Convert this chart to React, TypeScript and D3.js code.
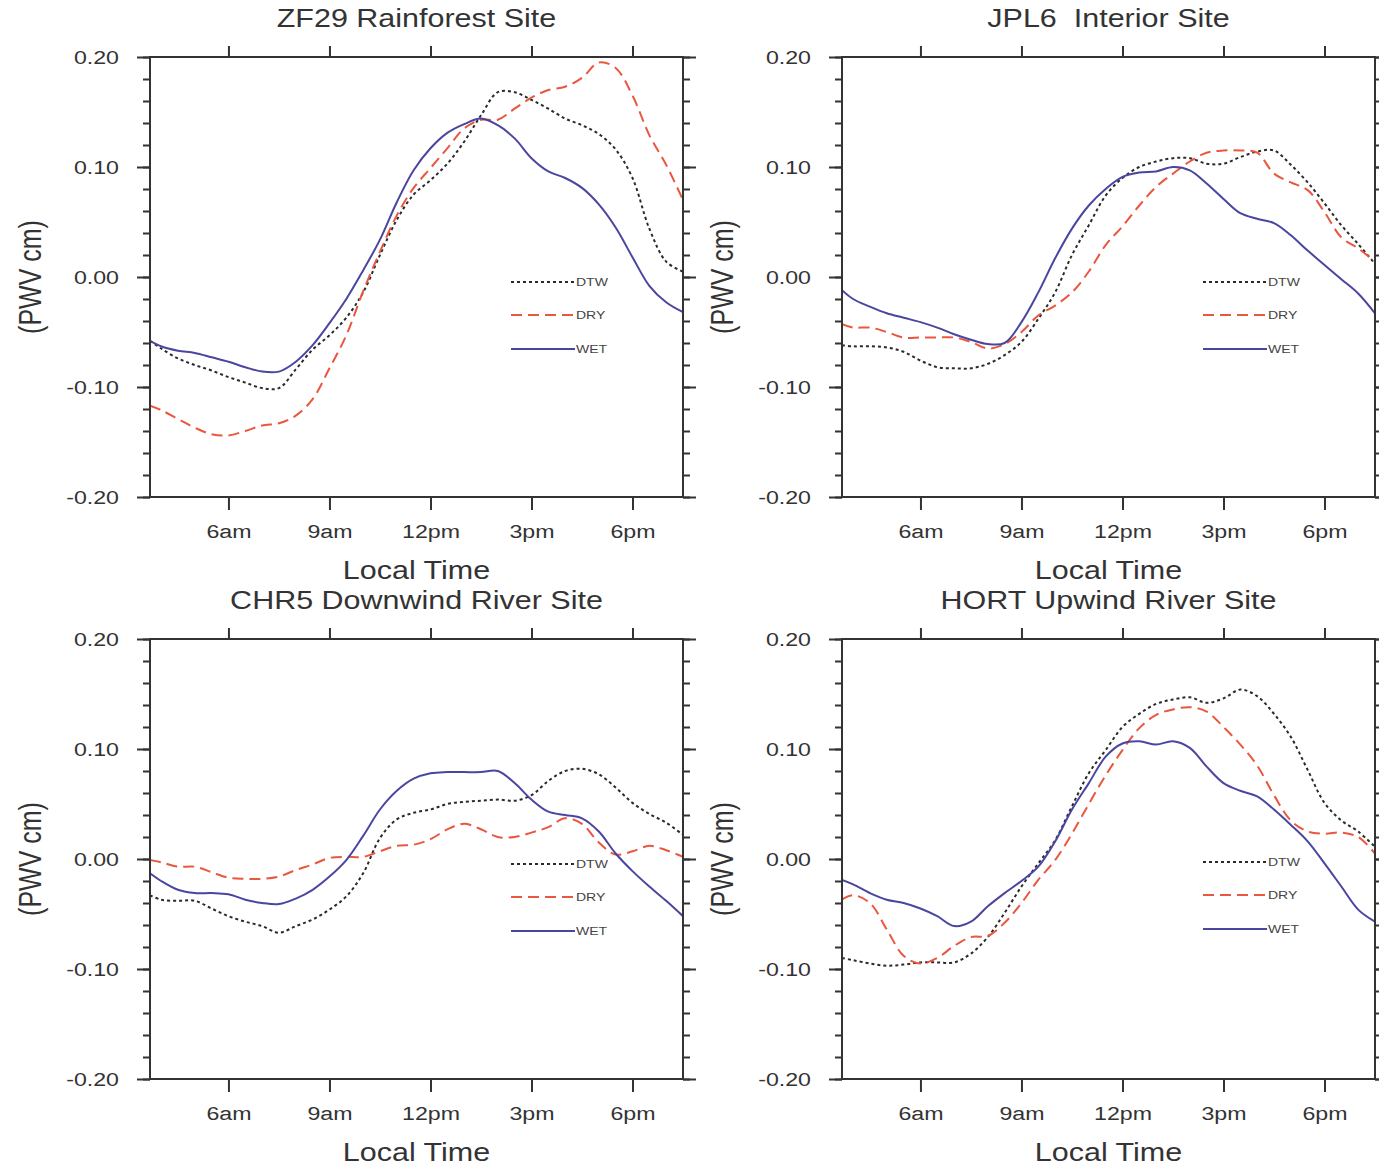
import React, { useEffect, useRef } from 'react';
import * as d3 from 'd3';

// local time in hours, one sample every half hour
const hours = [3.67, 4, 4.5, 5, 5.5, 6, 6.5, 7, 7.5, 8, 8.5, 9, 9.5, 10, 10.5, 11, 11.5, 12, 12.5, 13, 13.5, 14, 14.5, 15, 15.5, 16, 16.5, 17, 17.5, 18, 18.5, 19, 19.5];

const zf29Dtw = [-0.058, -0.065, -0.074, -0.080, -0.085, -0.091, -0.096, -0.101, -0.101, -0.084, -0.066, -0.053, -0.037, -0.014, 0.020, 0.052, 0.075, 0.088, 0.103, 0.123, 0.147, 0.168, 0.168, 0.161, 0.153, 0.144, 0.138, 0.130, 0.116, 0.090, 0.044, 0.014, 0.005];
const zf29Dry = [-0.117, -0.121, -0.129, -0.137, -0.143, -0.144, -0.140, -0.135, -0.133, -0.126, -0.111, -0.083, -0.053, -0.013, 0.023, 0.056, 0.081, 0.099, 0.117, 0.135, 0.143, 0.143, 0.153, 0.163, 0.170, 0.173, 0.181, 0.195, 0.190, 0.165, 0.129, 0.102, 0.070];
const zf29Wet = [-0.058, -0.063, -0.067, -0.069, -0.073, -0.077, -0.082, -0.086, -0.086, -0.077, -0.062, -0.042, -0.020, 0.006, 0.034, 0.068, 0.097, 0.117, 0.131, 0.139, 0.144, 0.138, 0.126, 0.108, 0.096, 0.090, 0.081, 0.066, 0.045, 0.018, -0.008, -0.023, -0.032];

const jpl6Dtw = [-0.062, -0.063, -0.063, -0.064, -0.068, -0.076, -0.082, -0.083, -0.083, -0.079, -0.071, -0.059, -0.038, -0.014, 0.020, 0.047, 0.074, 0.090, 0.100, 0.105, 0.108, 0.108, 0.103, 0.103, 0.109, 0.114, 0.115, 0.102, 0.086, 0.067, 0.047, 0.030, 0.012];
const jpl6Dry = [-0.043, -0.046, -0.046, -0.050, -0.055, -0.055, -0.055, -0.055, -0.059, -0.065, -0.061, -0.050, -0.035, -0.026, -0.014, 0.005, 0.029, 0.046, 0.065, 0.082, 0.094, 0.105, 0.113, 0.115, 0.115, 0.113, 0.094, 0.086, 0.079, 0.059, 0.036, 0.026, 0.014];
const jpl6Wet = [-0.012, -0.020, -0.027, -0.033, -0.037, -0.041, -0.046, -0.052, -0.057, -0.061, -0.060, -0.041, -0.014, 0.017, 0.044, 0.065, 0.080, 0.091, 0.095, 0.096, 0.100, 0.097, 0.085, 0.071, 0.058, 0.053, 0.049, 0.038, 0.024, 0.011, -0.002, -0.015, -0.033];

const chr5Dtw = [-0.033, -0.037, -0.038, -0.038, -0.045, -0.052, -0.057, -0.061, -0.067, -0.061, -0.055, -0.046, -0.034, -0.013, 0.019, 0.036, 0.042, 0.045, 0.050, 0.052, 0.053, 0.054, 0.053, 0.058, 0.071, 0.080, 0.082, 0.077, 0.065, 0.051, 0.041, 0.033, 0.022];
const chr5Dry = [-0.001, -0.003, -0.007, -0.007, -0.012, -0.017, -0.018, -0.018, -0.016, -0.010, -0.005, 0.001, 0.002, 0.002, 0.007, 0.012, 0.013, 0.018, 0.027, 0.032, 0.027, 0.020, 0.020, 0.024, 0.029, 0.037, 0.032, 0.015, 0.004, 0.007, 0.012, 0.008, 0.002];
const chr5Wet = [-0.013, -0.020, -0.028, -0.031, -0.031, -0.032, -0.037, -0.040, -0.041, -0.036, -0.028, -0.016, -0.001, 0.021, 0.045, 0.062, 0.073, 0.078, 0.079, 0.079, 0.079, 0.080, 0.069, 0.054, 0.043, 0.040, 0.037, 0.025, 0.005, -0.011, -0.025, -0.038, -0.052];

const hortDtw = [-0.090, -0.092, -0.095, -0.097, -0.096, -0.094, -0.094, -0.094, -0.086, -0.071, -0.049, -0.025, -0.004, 0.017, 0.048, 0.078, 0.099, 0.120, 0.132, 0.141, 0.145, 0.147, 0.142, 0.146, 0.154, 0.148, 0.132, 0.111, 0.081, 0.051, 0.035, 0.025, 0.011];
const hortDry = [-0.037, -0.033, -0.040, -0.064, -0.088, -0.095, -0.090, -0.079, -0.071, -0.070, -0.058, -0.040, -0.019, -0.001, 0.023, 0.050, 0.076, 0.099, 0.119, 0.131, 0.136, 0.138, 0.134, 0.120, 0.104, 0.085, 0.058, 0.035, 0.025, 0.023, 0.024, 0.020, 0.005];
const hortWet = [-0.019, -0.023, -0.031, -0.037, -0.040, -0.045, -0.052, -0.061, -0.057, -0.043, -0.031, -0.020, -0.007, 0.016, 0.045, 0.069, 0.093, 0.105, 0.107, 0.104, 0.107, 0.101, 0.084, 0.069, 0.062, 0.057, 0.045, 0.031, 0.016, -0.004, -0.025, -0.046, -0.057];

const siteTitles = ['ZF29 Rainforest Site', 'JPL6  Interior Site', 'CHR5 Downwind River Site', 'HORT Upwind River Site'];
const seriesNames = ['DTW', 'DRY', 'WET'];
const siteSeries = [
  [zf29Dtw, zf29Dry, zf29Wet],
  [jpl6Dtw, jpl6Dry, jpl6Wet],
  [chr5Dtw, chr5Dry, chr5Wet],
  [hortDtw, hortDry, hortWet],
];

const xTickHours = [6, 9, 12, 15, 18];
const xTickLabels = ['6am', '9am', '12pm', '3pm', '6pm'];
const yMajorTicks = [-0.2, -0.1, 0, 0.1, 0.2];

const width = 1379;
const height = 1165;
const panelW = 533;
const panelH = 440;
const panelOrigins = [[150, 57], [842, 57], [150, 639], [842, 639]];
const lineStyles = [
  { color: '#2a2a2a', dash: '3,3', w: 2 },
  { color: '#e9573f', dash: '11,6', w: 2 },
  { color: '#4a46a0', dash: null, w: 2 },
];
const legendRows = [225, 258, 292];
const font = "'Liberation Sans', Arial, Helvetica, sans-serif";
const ink = '#333';
// the original figure is a bit wider than tall, so glyphs look stretched sideways
const stretch = 1.22;

function App() {
  const ref = useRef<SVGSVGElement>(null);

  useEffect(() => {
    const svg = d3.select(ref.current);
    svg.selectAll('*').remove();

    const x = d3.scaleLinear().domain([3.67, 19.5]).range([0, panelW]);
    const y = d3.scaleLinear().domain([-0.2, 0.2]).range([panelH, 0]);
    const line = d3
      .line<number>()
      .x((d, i) => x(hours[i]))
      .y((d) => y(d))
      .curve(d3.curveCatmullRom.alpha(0.5));

    const styleAxis = (g) => {
      g.select('.domain').remove();
      g.selectAll('line').attr('stroke', ink).attr('stroke-width', 2);
      g.selectAll('text').attr('fill', ink).attr('font-family', font);
    };

    siteSeries.forEach((series, p) => {
      const [ox, oy] = panelOrigins[p];
      const g = svg.append('g').attr('transform', `translate(${ox},${oy})`);

      g.append('clipPath')
        .attr('id', `clip${p}`)
        .append('rect')
        .attr('width', panelW)
        .attr('height', panelH);

      const lines = g.append('g').attr('clip-path', `url(#clip${p})`);
      series.forEach((vals, s) => {
        lines
          .append('path')
          .datum(vals)
          .attr('fill', 'none')
          .attr('stroke', lineStyles[s].color)
          .attr('stroke-width', lineStyles[s].w)
          .attr('stroke-dasharray', lineStyles[s].dash)
          .attr('d', line);
      });

      // minor ticks on y, both sides
      g.append('g')
        .call(d3.axisLeft(y).ticks(20).tickSize(7).tickFormat(() => ''))
        .call(styleAxis);
      g.append('g')
        .attr('transform', `translate(${panelW},0)`)
        .call(d3.axisRight(y).ticks(20).tickSize(7).tickFormat(() => ''))
        .call(styleAxis);

      g.append('g')
        .call(
          d3
            .axisLeft(y)
            .tickValues(yMajorTicks)
            .tickSize(13)
            .tickPadding(18)
            .tickFormat((d) => (+d).toFixed(2))
        )
        .call(styleAxis)
        .call((a) => a.selectAll('text').attr('font-size', 19));
      g.append('g')
        .attr('transform', `translate(${panelW},0)`)
        .call(d3.axisRight(y).tickValues(yMajorTicks).tickSize(13).tickFormat(() => ''))
        .call(styleAxis);

      g.append('g')
        .call(d3.axisTop(x).tickValues(xTickHours).tickSize(11).tickFormat(() => ''))
        .call(styleAxis);
      g.append('g')
        .attr('transform', `translate(0,${panelH})`)
        .call(
          d3
            .axisBottom(x)
            .tickValues(xTickHours)
            .tickSize(13)
            .tickPadding(14)
            .tickFormat((d, i) => xTickLabels[i])
        )
        .call(styleAxis)
        .call((a) => a.selectAll('text').attr('font-size', 19));

      g.append('rect')
        .attr('width', panelW)
        .attr('height', panelH)
        .attr('fill', 'none')
        .attr('stroke', ink)
        .attr('stroke-width', 2);

      g.append('text')
        .attr('x', panelW / 2)
        .attr('y', -30)
        .attr('text-anchor', 'middle')
        .attr('font-family', font)
        .attr('font-size', 25)
        .attr('fill', ink)
        .style('white-space', 'pre')
        .text(siteTitles[p]);

      g.append('text')
        .attr('x', panelW / 2)
        .attr('y', panelH + 82)
        .attr('text-anchor', 'middle')
        .attr('font-family', font)
        .attr('font-size', 25)
        .attr('fill', ink)
        .text('Local Time');

      g.append('text')
        .attr('class', 'rot')
        .attr('transform', `translate(-120,${panelH / 2}) scale(${stretch},1) rotate(-90)`)
        .attr('dy', '0.35em')
        .attr('text-anchor', 'middle')
        .attr('font-family', font)
        .attr('font-size', 25)
        .attr('fill', ink)
        .text('(PWV cm)');

      const lg = g.append('g').attr('transform', `translate(361,${p === 3 ? -2 : 0})`);
      seriesNames.forEach((name, s) => {
        lg.append('line')
          .attr('x1', 0)
          .attr('x2', 64)
          .attr('y1', legendRows[s])
          .attr('y2', legendRows[s])
          .attr('stroke', lineStyles[s].color)
          .attr('stroke-width', 2)
          .attr('stroke-dasharray', lineStyles[s].dash);
        lg.append('text')
          .attr('x', 65)
          .attr('y', legendRows[s])
          .attr('dy', '0.36em')
          .attr('font-family', font)
          .attr('font-size', 11.5)
          .attr('fill', '#444')
          .text(name);
      });
    });

    // widen every upright label around its own anchor point
    svg.selectAll('text:not(.rot)').each(function () {
      const t = d3.select(this);
      const tx = +t.attr('x') || 0;
      const ty = +t.attr('y') || 0;
      t.attr('x', 0).attr('y', 0).attr('transform', `translate(${tx},${ty}) scale(${stretch},1)`);
    });
  }, []);

  return (
    <svg
      ref={ref}
      width={width}
      height={height}
      style={{ position: 'absolute', left: 0, top: 0, background: '#fff' }}
    />
  );
}

export default App;
